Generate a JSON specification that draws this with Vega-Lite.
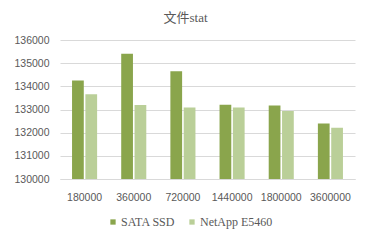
{
  "$schema": "https://vega.github.io/schema/vega-lite/v6.json",
  "autosize": "none",
  "width": 295,
  "height": 139,
  "padding": {"left": 60, "top": 40, "right": 15, "bottom": 66},
  "background": "white",
  "title": {
    "text": "文件stat",
    "font": "Liberation Serif, Noto Sans CJK SC",
    "fontSize": 13,
    "fontWeight": "normal",
    "color": "#595959",
    "anchor": "middle",
    "dx": -22,
    "offset": 10
  },
  "data": {
    "values": [
      {"size": "180000", "series": "SATA SSD", "value": 134250},
      {"size": "180000", "series": "NetApp E5460", "value": 133660},
      {"size": "360000", "series": "SATA SSD", "value": 135410},
      {"size": "360000", "series": "NetApp E5460", "value": 133190},
      {"size": "720000", "series": "SATA SSD", "value": 134650},
      {"size": "720000", "series": "NetApp E5460", "value": 133090},
      {"size": "1440000", "series": "SATA SSD", "value": 133210},
      {"size": "1440000", "series": "NetApp E5460", "value": 133090},
      {"size": "1800000", "series": "SATA SSD", "value": 133170},
      {"size": "1800000", "series": "NetApp E5460", "value": 132930},
      {"size": "3600000", "series": "SATA SSD", "value": 132400},
      {"size": "3600000", "series": "NetApp E5460", "value": 132210}
    ]
  },
  "mark": {"type": "bar", "clip": true},
  "encoding": {
    "x": {
      "field": "size",
      "type": "nominal",
      "sort": null,
      "scale": {"paddingInner": 0.49, "paddingOuter": 0.245},
      "axis": {
        "title": null,
        "labelAngle": 0,
        "labelFont": "Liberation Sans",
        "labelFontSize": 10.5,
        "labelColor": "#595959",
        "labelPadding": 13,
        "ticks": false,
        "domain": true,
        "domainColor": "#d9d9d9",
        "grid": false
      }
    },
    "xOffset": {
      "field": "series",
      "type": "nominal",
      "sort": ["SATA SSD", "NetApp E5460"],
      "scale": {"paddingInner": 0.12}
    },
    "y": {
      "field": "value",
      "type": "quantitative",
      "scale": {"domain": [130000, 136000], "zero": false, "nice": false},
      "axis": {
        "title": null,
        "values": [130000, 131000, 132000, 133000, 134000, 135000, 136000],
        "format": "d",
        "labelFont": "Liberation Sans",
        "labelFontSize": 10.5,
        "labelColor": "#595959",
        "labelPadding": 11,
        "ticks": false,
        "domain": false,
        "gridColor": "#d9d9d9",
        "gridWidth": 1
      }
    },
    "color": {
      "field": "series",
      "type": "nominal",
      "sort": ["SATA SSD", "NetApp E5460"],
      "scale": {"domain": ["SATA SSD", "NetApp E5460"], "range": ["#8aa54c", "#bacf98"]},
      "legend": {
        "title": null,
        "orient": "none",
        "direction": "horizontal",
        "legendX": 47,
        "legendY": 176,
        "symbolType": "square",
        "symbolSize": 28,
        "symbolStrokeWidth": 0,
        "labelFont": "Liberation Serif",
        "labelFontSize": 12,
        "labelColor": "#595959",
        "labelOffset": 2,
        "columnPadding": 10
      }
    }
  },
  "config": {"view": {"stroke": null}}
}
